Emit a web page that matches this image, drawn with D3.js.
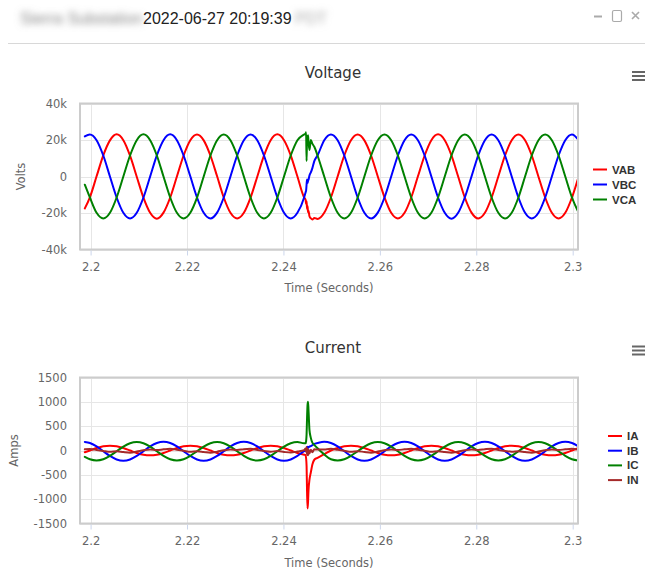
<!DOCTYPE html>
<html lang="en">
<head>
<meta charset="utf-8">
<title>Voltage and Current</title>
<script src="https://cdn.jsdelivr.net/npm/d3@7"></script>
<style>
  body { margin: 0; background: #fff; }
  svg { display: block; }
</style>
</head>
<body>
<script>

// sample times (seconds), ~12 per cycle, denser around the event at 2.245
var times = [
  2.19880, 2.19985, 2.20124, 2.20263, 2.20401, 2.20540, 2.20679, 2.20818, 2.20957, 2.21096,
  2.21235, 2.21374, 2.21512, 2.21651, 2.21790, 2.21929, 2.22068, 2.22207, 2.22346, 2.22485,
  2.22624, 2.22762, 2.22901, 2.23040, 2.23179, 2.23318, 2.23457, 2.23596, 2.23735, 2.23874,
  2.24012, 2.24151, 2.24290, 2.24429,
  2.2446, 2.2447, 2.2448, 2.2449, 2.2450, 2.2451, 2.2452, 2.2454,
  2.24568, 2.2460, 2.2464,
  2.24707, 2.24846, 2.24985, 2.25124, 2.25262,
  2.25401, 2.25540, 2.25679, 2.25818, 2.25957, 2.26096, 2.26235, 2.26374, 2.26512, 2.26651,
  2.26790, 2.26929, 2.27068, 2.27207, 2.27346, 2.27485, 2.27624, 2.27762, 2.27901, 2.28040,
  2.28179, 2.28318, 2.28457, 2.28596, 2.28735, 2.28874, 2.29012, 2.29151, 2.29290, 2.29429,
  2.29568, 2.29707, 2.29846, 2.29985, 2.30124
];

// voltages (V)
var vab = [
  -17500, -11400, 100, 11600, 19800, 23100, 19900, 11400, -100, -11600,
  -19900, -23100, -19800, -11500, 0, 11500, 19900, 23000, 19800, 11500,
  100, -11500, -19900, -23000, -19900, -11600, -100, 11400, 19900, 23100,
  19900, 11600, 0, -11500,
  -12800, -15200, -13600, -17800, -16200, -19600, -18700, -21800,
  -22900, -23600, -22700,
  -23300, -19900, -11500, 0, 11500,
  19900, 23000, 19800, 11500, 0, -11400, -19900, -23000, -19900, -11500,
  100, 11500, 19900, 23100, 19900, 11600, 0, -11500, -19800, -23000,
  -19900, -11500, 0, 11500, 19900, 23000, 19900, 11500, -100, -11500,
  -19900, -23000, -19900, -11500, 0
];
var vbc = [
  22000, 23000, 19900, 11500, 0, -11500, -19900, -23000, -19900, -11500,
  0, 11600, 19900, 23100, 19900, 11500, 100, -11500, -19900, -23000,
  -19800, -11500, 0, 11500, 19900, 23000, 19900, 11500, 0, -11500,
  -19900, -23000, -19900, -11500,
  -8600, -7700, -4400, -1600, -3600, -2400, -1700, 600,
  2200, 4600, 8400,
  11500, 19900, 23000, 19900, 11500,
  0, -11500, -19900, -23000, -19800, -11500, 0, 11500, 19900, 23000,
  19900, 11500, 0, -11500, -19900, -23100, -19900, -11500, 0, 11500,
  19900, 23000, 19900, 11500, 0, -11500, -19900, -23000, -19900, -11500,
  0, 11500, 19900, 23000, 19900
];
var vca = [
  -4500, -11500, -19900, -23000, -19900, -11500, 0, 11500, 19900, 23100,
  19900, 11500, 0, -11500, -19900, -23000, -19900, -11600, 0, 11500,
  19900, 23000, 19900, 11500, 0, -11500, -19900, -23000, -19900, -11500,
  0, 11500, 19900, 23000,
  23500, 24200, 8500, 22000, 20500, 22600, 19000, 14500,
  20000, 18000, 16300,
  11500, 0, -11500, -19900, -23000,
  -19900, -11500, 0, 11500, 19900, 23000, 19900, 11500, 0, -11500,
  -19900, -23000, -19900, -11500, 0, 11500, 19900, 23000, 19900, 11500,
  0, -11500, -19900, -23000, -19900, -11500, 0, 11500, 19900, 23000,
  19900, 11500, 0, -11500, -19900
];

// currents (A)
var ia = [
  -35, 0, 50, 87, 100, 87, 50, 0, -50, -87,
  -100, -87, -50, 0, 50, 87, 100, 87, 50, 0,
  -50, -87, -100, -87, -50, 0, 50, 87, 100, 87,
  50, 0, -50, -87,
  -95, -160, -320, -860, -1190, -1060, -820, -600,
  -450, -290, -190,
  -150, -75, 0, 50, 87,
  100, 87, 50, 0, -50, -87, -100, -87, -50, 0,
  50, 87, 100, 87, 50, 0, -50, -87, -100, -87,
  -50, 0, 50, 87, 100, 87, 50, 0, -50, -87,
  -100, -87, -50, 0, 50
];
var ib = [
  175, 154, 83, -15, -112, -184, -210, -184, -112, -15,
  83, 154, 180, 154, 83, -15, -112, -184, -210, -184,
  -112, -15, 83, 154, 180, 154, 83, -15, -112, -184,
  -210, -184, -112, -15,
  0, 15, 45, 25, 75, 55, 65, 80,
  90, 110, 135,
  154, 180, 154, 83, -15,
  -112, -184, -210, -184, -112, -15, 83, 154, 180, 154,
  83, -15, -112, -184, -210, -184, -112, -15, 83, 154,
  180, 154, 83, -15, -112, -184, -210, -184, -112, -15,
  83, 154, 180, 154, 83
];
var ic = [
  -130, -180, -205, -180, -110, -15, 80, 150, 175, 150,
  80, -15, -110, -180, -205, -180, -110, -15, 80, 150,
  175, 150, 80, -15, -110, -180, -205, -180, -110, -15,
  80, 150, 175, 150,
  150, 190, 330, 680, 940, 1000, 830, 420,
  260, 160, 115,
  45, -80, -180, -205, -180,
  -110, -15, 80, 150, 175, 150, 80, -15, -110, -180,
  -205, -180, -110, -15, 80, 150, 175, 150, 80, -15,
  -110, -180, -205, -180, -110, -15, 80, 150, 175, 150,
  80, -15, -110, -180, -205
];
var iN = [
  24, 32, 12, -8, -26, -14, -32, -44, -22, 6,
  22, 8, 24, 36, 14, -6, -28, -16, -30, -46,
  -24, 4, 20, 10, 26, 34, 12, -8, -24, -12,
  -30, -42, -20, 8,
  40, -30, 70, -90, 30, -100, 20, -60,
  15, -35, 25,
  18, 22, 34, 14, -6,
  -26, -14, -30, -44, -22, 6, 22, 10, 24, 34,
  14, -4, -26, -16, -30, -44, -22, 4, 20, 10,
  26, 36, 12, -8, -24, -14, -32, -44, -20, 6,
  22, 10, 24, 34, 14
];

var timeTicks = [2.2, 2.22, 2.24, 2.26, 2.28, 2.3];
var voltTicks = [-40000, -20000, 0, 20000, 40000];
var ampTicks = [-1500, -1000, -500, 0, 500, 1000, 1500];

var voltNames = ["VAB", "VBC", "VCA"];
var ampNames = ["IA", "IB", "IC", "IN"];

//Width and height
var w = 645;
var h = 571;
var chartFont = "'DejaVu Sans', sans-serif";

var svg = d3.select("body")
            .append("svg")
            .attr("width", w)
            .attr("height", h);

svg.append("rect").attr("width", w).attr("height", h).attr("fill", "#fff");

//Header (name and zone are blurred in the original)
var defs = svg.append("defs");
defs.append("filter")
    .attr("id", "blur")
    .attr("x", "-20%").attr("y", "-60%").attr("width", "140%").attr("height", "220%")
    .append("feGaussianBlur")
    .attr("stdDeviation", 3.6);

svg.append("text")
   .attr("x", 20).attr("y", 24)
   .attr("font-family", "'Liberation Sans', Arial, sans-serif")
   .attr("font-size", "16px")
   .attr("fill", "#888")
   .attr("filter", "url(#blur)")
   .text("Sierra Substation");

svg.append("text")
   .attr("x", 143).attr("y", 24)
   .attr("font-family", "'Liberation Sans', Arial, sans-serif")
   .attr("font-size", "16px")
   .attr("fill", "#222")
   .text("2022-06-27 20:19:39");

svg.append("text")
   .attr("x", 295).attr("y", 24)
   .attr("font-family", "'Liberation Sans', Arial, sans-serif")
   .attr("font-size", "16px")
   .attr("fill", "#aaa")
   .attr("filter", "url(#blur)")
   .text("PDT");

//window buttons
svg.append("line")
   .attr("x1", 594).attr("x2", 602).attr("y1", 16.5).attr("y2", 16.5)
   .attr("stroke", "#aaa").attr("stroke-width", 2);
svg.append("rect")
   .attr("x", 612.5).attr("y", 10.5).attr("width", 9).attr("height", 11).attr("rx", 1.5)
   .attr("fill", "none").attr("stroke", "#aaa").attr("stroke-width", 1.2);
svg.append("path")
   .attr("d", "M632,12L639,19M639,12L632,19")
   .attr("stroke", "#aaa").attr("stroke-width", 1.6);

svg.append("line")
   .attr("x1", 8).attr("x2", w).attr("y1", 43.5).attr("y2", 43.5)
   .attr("stroke", "#d8d8d8").attr("stroke-width", 1);

//shared time scale
var x = d3.scaleLinear()
          .domain([2.1978, 2.3011])
          .range([80, 578]);

function drawChart(o) {
    var y = d3.scaleLinear()
              .domain([o.ticks[0], o.ticks[o.ticks.length - 1]])
              .range([o.bottom, o.top]);

    var g = svg.append("g");

    defs.append("clipPath")
        .attr("id", o.id + "-clip")
        .append("rect")
        .attr("x", 80).attr("y", o.top)
        .attr("width", 498).attr("height", o.bottom - o.top);

    //title
    g.append("text")
     .attr("x", 333).attr("y", o.titleY)
     .attr("text-anchor", "middle")
     .attr("font-family", chartFont)
     .attr("font-size", "15px")
     .attr("fill", "#333")
     .text(o.title);

    //menu button
    g.selectAll(".menu")
     .data([0, 4, 8])
     .enter()
     .append("line")
     .attr("x1", 632).attr("x2", 645)
     .attr("y1", function(d) { return o.menuY + d; })
     .attr("y2", function(d) { return o.menuY + d; })
     .attr("stroke", "#666")
     .attr("stroke-width", 2);

    //grid
    g.selectAll(".hgrid")
     .data(o.ticks)
     .enter()
     .append("line")
     .attr("x1", 80).attr("x2", 578)
     .attr("y1", function(d) { return Math.round(y(d)) + 0.5; })
     .attr("y2", function(d) { return Math.round(y(d)) + 0.5; })
     .attr("stroke", "#e6e6e6");

    g.selectAll(".vgrid")
     .data(timeTicks)
     .enter()
     .append("line")
     .attr("x1", function(d) { return Math.round(x(d)) + 0.5; })
     .attr("x2", function(d) { return Math.round(x(d)) + 0.5; })
     .attr("y1", o.top).attr("y2", o.bottom)
     .attr("stroke", "#e6e6e6");

    //series
    var line = d3.line()
                 .x(function(d, i) { return x(times[i]); })
                 .y(function(d) { return y(d); })
                 .curve(d3.curveMonotoneX);

    var lines = g.append("g").attr("clip-path", "url(#" + o.id + "-clip)");
    o.series.forEach(function(s, i) {
        lines.append("path")
             .attr("d", line(s))
             .attr("fill", "none")
             .attr("stroke", o.colors[i])
             .attr("stroke-width", 2)
             .attr("stroke-linejoin", "round")
             .attr("stroke-linecap", "round");
    });

    //plot border
    g.append("rect")
     .attr("x", 80).attr("y", o.top)
     .attr("width", 498).attr("height", o.bottom - o.top)
     .attr("fill", "none")
     .attr("stroke", "#cccccc")
     .attr("stroke-width", 2);

    //axes
    var xAxis = d3.axisBottom(x)
                  .tickValues(timeTicks)
                  .tickSize(5)
                  .tickPadding(7)
                  .tickFormat(d3.format(""));
    var gx = g.append("g")
              .attr("transform", "translate(0," + (o.bottom + 1) + ")")
              .call(xAxis);
    gx.select(".domain").remove();
    gx.selectAll(".tick line").attr("stroke", "#ccd6eb");
    gx.selectAll("text")
      .attr("font-family", chartFont)
      .attr("font-size", "11.5px")
      .attr("fill", "#666");

    var yAxis = d3.axisLeft(y)
                  .tickValues(o.ticks)
                  .tickSize(0)
                  .tickPadding(13)
                  .tickFormat(o.format);
    var gy = g.append("g")
              .attr("transform", "translate(80,0)")
              .call(yAxis);
    gy.select(".domain").remove();
    gy.selectAll("text")
      .attr("font-family", chartFont)
      .attr("font-size", "11.5px")
      .attr("fill", "#666");

    //axis titles
    g.append("text")
     .attr("x", 329).attr("y", o.xTitleY)
     .attr("text-anchor", "middle")
     .attr("font-family", chartFont)
     .attr("font-size", "11.5px")
     .attr("fill", "#666")
     .text("Time (Seconds)");

    g.append("text")
     .attr("transform", "translate(" + o.yTitleX + "," + ((o.top + o.bottom) / 2) + ") rotate(-90)")
     .attr("text-anchor", "middle")
     .attr("font-family", chartFont)
     .attr("font-size", "11.5px")
     .attr("fill", "#666")
     .text(o.yTitle);

    //legend
    var items = g.selectAll(".legend")
                 .data(o.names)
                 .enter()
                 .append("g")
                 .attr("transform", function(d, i) {
                     return "translate(" + o.legendX + "," + (o.legendY + i * o.legendStep) + ")";
                 });
    items.append("line")
         .attr("x1", 0).attr("x2", 14)
         .attr("stroke", function(d, i) { return o.colors[i]; })
         .attr("stroke-width", 2);
    items.append("text")
         .attr("x", 19).attr("y", 4)
         .attr("font-family", "'Liberation Sans', Arial, sans-serif")
         .attr("font-weight", "bold")
         .attr("font-size", "11.5px")
         .attr("fill", "#333")
         .text(function(d) { return d; });
}

drawChart({
    id: "volt",
    title: "Voltage",
    titleY: 78,
    menuY: 72,
    top: 103.5,
    bottom: 249.5,
    ticks: voltTicks,
    format: function(d) { return d === 0 ? "0" : (d / 1000) + "k"; },
    series: [vab, vbc, vca],
    colors: ["#ff0000", "#0000ff", "#008000"],
    names: voltNames,
    xTitleY: 292,
    yTitle: "Volts",
    yTitleX: 25,
    legendX: 593,
    legendY: 169.5,
    legendStep: 15
});

drawChart({
    id: "amp",
    title: "Current",
    titleY: 352.5,
    menuY: 346.5,
    top: 377.5,
    bottom: 523.5,
    ticks: ampTicks,
    format: function(d) { return String(d); },
    series: [ia, ib, ic, iN],
    colors: ["#ff0000", "#0000ff", "#008000", "#a52a2a"],
    names: ampNames,
    xTitleY: 566.5,
    yTitle: "Amps",
    yTitleX: 18,
    legendX: 608,
    legendY: 436,
    legendStep: 14.7
});

</script>
</body>
</html>
